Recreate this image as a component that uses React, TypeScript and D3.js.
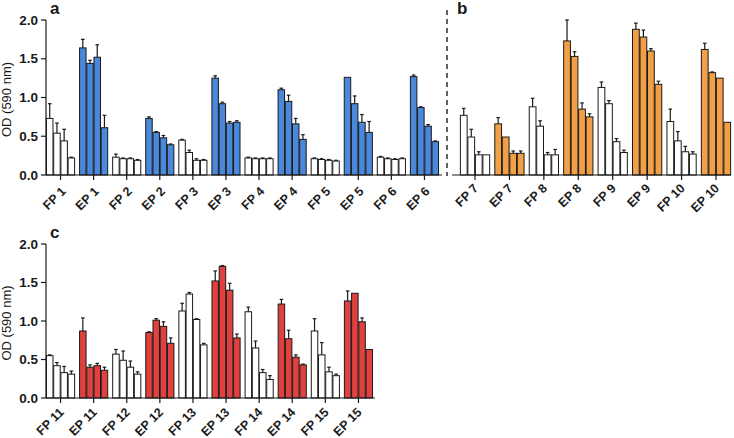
import React from "react";
import * as d3 from "d3";

// ---- data ----
const groupsA = ["FP 1", "EP 1", "FP 2", "EP 2", "FP 3", "EP 3", "FP 4", "EP 4", "FP 5", "EP 5", "FP 6", "EP 6"];
const valuesA = [
  [0.73, 0.54, 0.44, 0.22], [1.64, 1.44, 1.52, 0.61],
  [0.23, 0.21, 0.21, 0.19], [0.73, 0.55, 0.48, 0.39],
  [0.45, 0.29, 0.19, 0.19], [1.25, 0.92, 0.67, 0.68],
  [0.22, 0.21, 0.21, 0.21], [1.10, 0.95, 0.66, 0.46],
  [0.21, 0.20, 0.19, 0.18], [1.26, 0.92, 0.68, 0.55],
  [0.23, 0.21, 0.20, 0.21], [1.27, 0.87, 0.63, 0.43],
];
const errorsA = [
  [0.19, 0.13, 0.15, 0.01], [0.11, 0.04, 0.16, 0.16],
  [0.04, 0.01, 0.01, 0.01], [0.02, 0.01, 0.03, 0.01],
  [0.01, 0.03, 0.02, 0.01], [0.03, 0.02, 0.02, 0.02],
  [0.01, 0.01, 0.01, 0.01], [0.02, 0.08, 0.07, 0.06],
  [0.01, 0.01, 0.01, 0.01], [0.0, 0.10, 0.10, 0.14],
  [0.01, 0.01, 0.01, 0.01], [0.02, 0.01, 0.02, 0.01],
];

const groupsB = ["FP 7", "EP 7", "FP 8", "EP 8", "FP 9", "EP 9", "FP 10", "EP 10"];
const valuesB = [
  [0.77, 0.49, 0.26, 0.26], [0.66, 0.49, 0.28, 0.28],
  [0.88, 0.63, 0.26, 0.26], [1.73, 1.53, 0.85, 0.75],
  [1.13, 0.92, 0.43, 0.29], [1.88, 1.78, 1.60, 1.17],
  [0.69, 0.44, 0.30, 0.27], [1.62, 1.32, 1.25, 0.68],
];
const errorsB = [
  [0.09, 0.10, 0.04, 0.0], [0.08, 0.0, 0.03, 0.03],
  [0.11, 0.07, 0.03, 0.07], [0.27, 0.06, 0.08, 0.04],
  [0.07, 0.04, 0.04, 0.03], [0.08, 0.09, 0.03, 0.04],
  [0.16, 0.12, 0.07, 0.03], [0.08, 0.01, 0.0, 0.0],
];

const groupsC = ["FP 11", "EP 11", "FP 12", "EP 12", "FP 13", "EP 13", "FP 14", "EP 14", "FP 15", "EP 15"];
const valuesC = [
  [0.55, 0.42, 0.33, 0.31], [0.87, 0.40, 0.42, 0.36],
  [0.57, 0.49, 0.40, 0.31], [0.85, 1.01, 0.93, 0.71],
  [1.13, 1.35, 1.02, 0.69], [1.52, 1.71, 1.40, 0.78],
  [1.12, 0.65, 0.33, 0.24], [1.22, 0.77, 0.53, 0.43],
  [0.87, 0.56, 0.34, 0.29], [1.26, 1.36, 0.99, 0.63],
];
const errorsC = [
  [0.01, 0.04, 0.08, 0.04], [0.17, 0.03, 0.03, 0.04],
  [0.06, 0.12, 0.08, 0.03], [0.01, 0.02, 0.06, 0.07],
  [0.10, 0.02, 0.01, 0.02], [0.13, 0.01, 0.09, 0.05],
  [0.06, 0.09, 0.04, 0.05], [0.06, 0.11, 0.03, 0.01],
  [0.16, 0.16, 0.06, 0.02], [0.13, 0.0, 0.05, 0.0],
];

const yTicks = [0, 0.5, 1.0, 1.5, 2.0];
const FONT = "'Liberation Sans', Arial, sans-serif";

interface PanelProps {
  groups: string[];
  values: number[][];
  errors: number[][];
  color: string;
  xRange: [number, number];
  yRange: [number, number];
  axisStart: number;
  axisEnd: number;
  showY: boolean;
  labelDx: number;
  labelDy: number;
}

const Panel: React.FC<PanelProps> = ({
  groups, values, errors, color, xRange, yRange, axisStart, axisEnd, showY, labelDx, labelDy,
}) => {
  const x = d3.scaleBand<string>().domain(groups).range(xRange).paddingInner(0.15).paddingOuter(0.075);
  const inner = d3.scaleBand<number>().domain([0, 1, 2, 3]).range([0, x.bandwidth()]).paddingInner(0.1);
  const y = d3.scaleLinear().domain([0, 2]).range(yRange);
  const y0 = y(0);

  return (
    <g>
      {groups.map((g, gi) => {
        const fill = g.startsWith("EP") ? color : "#ffffff";
        return values[gi].map((v, i) => {
          const bx = (x(g) ?? 0) + (inner(i) ?? 0);
          const bw = inner.bandwidth();
          const cx = bx + bw / 2;
          const top = y(v);
          const et = y(v + errors[gi][i]);
          return (
            <g key={`${g}-${i}`}>
              <rect x={bx} y={top} width={bw} height={y0 - top} fill={fill} stroke="#1a1a1a" strokeWidth={1} />
              {errors[gi][i] > 0.005 && (
                <g stroke="#1a1a1a" strokeWidth={1.2}>
                  <line x1={cx} x2={cx} y1={top} y2={et} />
                  <line x1={cx - 1.8} x2={cx + 1.8} y1={et} y2={et} />
                </g>
              )}
            </g>
          );
        });
      })}

      {/* x axis */}
      <line x1={axisStart} x2={axisEnd} y1={y0} y2={y0} stroke="#1a1a1a" strokeWidth={1.2} />
      {groups.map((g) => {
        const cx = (x(g) ?? 0) + x.bandwidth() / 2;
        return (
          <g key={g}>
            <line x1={cx} x2={cx} y1={y0} y2={y0 + 5} stroke="#1a1a1a" strokeWidth={1.2} />
            <text
              transform={`translate(${cx + labelDx},${y0 + labelDy}) rotate(-45)`}
              textAnchor="end"
              fontFamily={FONT}
              fontWeight="bold"
              fontSize={12.5}
              fill="#1a1a1a"
            >
              {g}
            </text>
          </g>
        );
      })}

      {/* y axis */}
      {showY && (
        <g>
          <line x1={46} x2={46} y1={y0} y2={y(2)} stroke="#1a1a1a" strokeWidth={1.2} />
          {yTicks.map((t) => (
            <g key={t}>
              <line x1={41} x2={46} y1={y(t)} y2={y(t)} stroke="#1a1a1a" strokeWidth={1.2} />
              <text
                x={38}
                y={y(t)}
                dy="0.35em"
                textAnchor="end"
                fontFamily={FONT}
                fontWeight="bold"
                fontSize={13.5}
                fill="#1a1a1a"
              >
                {t.toFixed(1)}
              </text>
            </g>
          ))}
          <text
            transform={`translate(11,${(y0 + y(2)) / 2 + 2}) rotate(-90)`}
            textAnchor="middle"
            fontFamily={FONT}
            fontSize={13}
            fill="#1a1a1a"
          >
            OD (590 nm)
          </text>
        </g>
      )}
    </g>
  );
};

export default function App() {
  return (
    <svg
      width={734}
      height={438}
      style={{ position: "absolute", left: 0, top: 0, background: "#ffffff" }}
    >
      <Panel
        groups={groupsA} values={valuesA} errors={errorsA} color="#4a88dc"
        xRange={[44, 441]} yRange={[175, 20]} axisStart={46} axisEnd={442}
        showY labelDx={6} labelDy={17}
      />
      <Panel
        groups={groupsB} values={valuesB} errors={errorsB} color="#f2a046"
        xRange={[457.8, 733.2]} yRange={[175, 20]} axisStart={452} axisEnd={731}
        showY={false} labelDx={4} labelDy={14}
      />
      <Panel
        groups={groupsC} values={valuesC} errors={errorsC} color="#e0413f"
        xRange={[44, 375]} yRange={[398, 244]} axisStart={46} axisEnd={375}
        showY labelDx={4} labelDy={15}
      />
      <line x1={447} x2={447} y1={10} y2={176} stroke="#3a3a3a" strokeWidth={1.6} strokeDasharray="5,4" />
      <text x={50} y={14} fontFamily={FONT} fontWeight="bold" fontSize={17} fill="#1a1a1a">a</text>
      <text x={457} y={14} fontFamily={FONT} fontWeight="bold" fontSize={17} fill="#1a1a1a">b</text>
      <text x={50} y={238} fontFamily={FONT} fontWeight="bold" fontSize={17} fill="#1a1a1a">c</text>
    </svg>
  );
}
